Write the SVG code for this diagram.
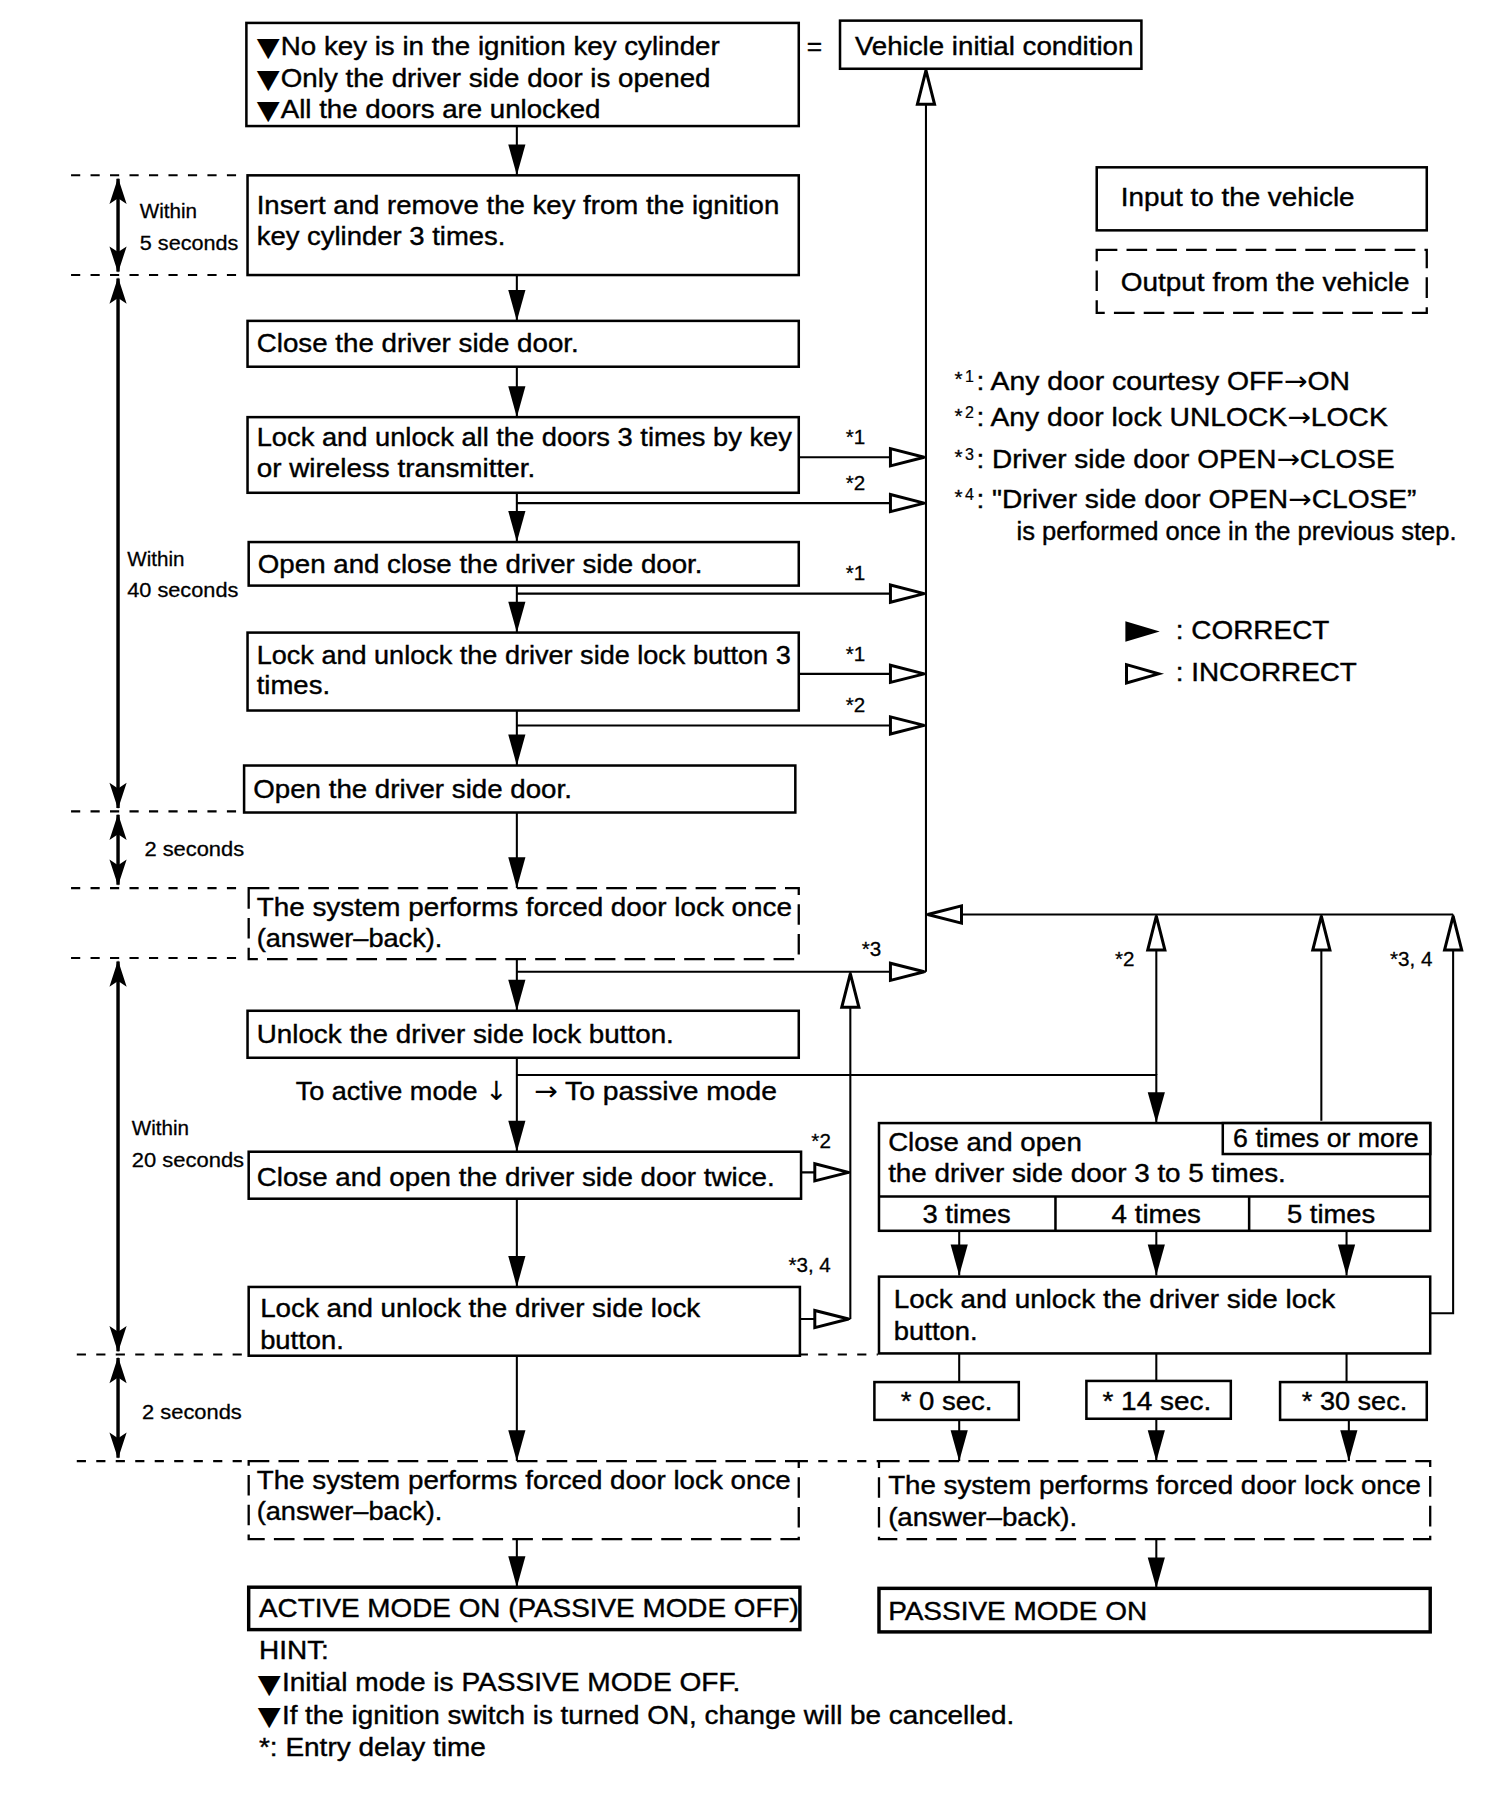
<svg xmlns="http://www.w3.org/2000/svg" width="1504" height="1798" viewBox="0 0 1504 1798">
<style>
.b{fill:#fff;stroke:#000;stroke-width:2.2}
.bt{fill:#fff;stroke:#000;stroke-width:3}
.d{fill:#fff;stroke:#000;stroke-width:2;stroke-dasharray:18 8}
.t{font-family:"Liberation Sans Narrow","Liberation Sans",Arial,sans-serif;font-size:23px;fill:#000;stroke:#000;stroke-width:0.35}
.s{font-size:18px;stroke-width:0.25}
.u{font-size:14px;stroke-width:0.2}
.g{font-family:"DejaVu Sans",sans-serif;stroke-width:0}
.tri{font-family:"DejaVu Sans",sans-serif;font-size:23px;stroke-width:0}
.c{fill:none;stroke:#000;stroke-width:1.8}
.f{marker-end:url(#fa)}
.o{marker-end:url(#oa)}
.tm{fill:none;stroke:#000;stroke-width:1.8;stroke-dasharray:8 9}
.dbl{fill:none;stroke:#000;stroke-width:3;marker-start:url(#da);marker-end:url(#da)}
</style>
<defs>
<marker id="fa" viewBox="-28 -9 30 18" refX="0" refY="0" markerWidth="30" markerHeight="18" markerUnits="userSpaceOnUse" orient="auto"><path d="M0,0 L-27,-7.5 L-27,7.5 z" fill="#000"/></marker>
<marker id="oa" viewBox="-35 -11 38 22" refX="0" refY="0" markerWidth="38" markerHeight="22" markerUnits="userSpaceOnUse" orient="auto"><path d="M-1.5,0 L-31,-7.5 L-31,7.5 z" fill="#fff" stroke="#000" stroke-width="2.6"/></marker>
<marker id="da" viewBox="-25 -9 27 18" refX="0" refY="0" markerWidth="27" markerHeight="18" markerUnits="userSpaceOnUse" orient="auto-start-reverse"><path d="M1,0 L-22,-7.5 L-17,0 L-22,7.5 z" fill="#000"/></marker>
</defs>
<g transform="scale(1.146)">
<g id="timing">
<path class="tm" d="M62,153H215M62,240H215M62,708H213M62,775H215M62,836H215M67,1182H217M697,1182H766M67,1275H217M697,1275H767"/>
<path class="dbl" d="M103,156V237"/>
<path class="dbl" d="M103,243V705"/>
<path class="dbl" d="M103,711V772"/>
<path class="dbl" d="M103,839V1179"/>
<path class="dbl" d="M103,1185V1272"/>
<text class="t s" x="122" y="190">Within</text>
<text class="t s" x="122" y="218" textLength="86" lengthAdjust="spacingAndGlyphs">5 seconds</text>
<text class="t s" x="111" y="494">Within</text>
<text class="t s" x="111" y="521" textLength="97" lengthAdjust="spacingAndGlyphs">40 seconds</text>
<text class="t s" x="126" y="747" textLength="87" lengthAdjust="spacingAndGlyphs">2 seconds</text>
<text class="t s" x="115" y="990">Within</text>
<text class="t s" x="115" y="1018" textLength="98" lengthAdjust="spacingAndGlyphs">20 seconds</text>
<text class="t s" x="124" y="1238" textLength="87" lengthAdjust="spacingAndGlyphs">2 seconds</text>
</g>
<g id="connectors">
<path class="c f" d="M451,110V153"/>
<path class="c f" d="M451,240V280"/>
<path class="c f" d="M451,320V364"/>
<path class="c f" d="M451,430V473"/>
<path class="c f" d="M451,511V552"/>
<path class="c f" d="M451,620V668"/>
<path class="c f" d="M451,709V775"/>
<path class="c f" d="M451,837V882"/>
<path class="c f" d="M451,923V1005"/>
<path class="c f" d="M451,1046V1123"/>
<path class="c f" d="M451,1183V1275"/>
<path class="c f" d="M451,1343V1385"/>
<path class="c f" d="M451,938H1009V980"/>
<path class="c f" d="M837,1074V1113"/>
<path class="c f" d="M1009,1074V1113"/>
<path class="c f" d="M1175,1074V1113"/>
<path class="c" d="M837,1181V1206M1009,1181V1205M1175,1181V1206"/>
<path class="c f" d="M837,1239V1275"/>
<path class="c f" d="M1009,1238V1275"/>
<path class="c f" d="M1177,1239V1275"/>
<path class="c f" d="M1009,1343V1386"/>
<path class="c o" d="M697,399H808"/>
<path class="c o" d="M451,439H808"/>
<path class="c o" d="M451,518H808"/>
<path class="c o" d="M697,588H808"/>
<path class="c o" d="M451,633H808"/>
<path class="c o" d="M451,848H808"/>
<path class="c o" d="M808,848V60"/>
<path class="c o" d="M1268,798H808"/>
<path class="c o" d="M1009,938V798"/>
<path class="c o" d="M1153,978V798"/>
<path class="c o" d="M1247,1146H1268V798"/>
<path class="c o" d="M699,1023H742"/>
<path class="c o" d="M698,1151H742"/>
<path class="c o" d="M742,1151V848"/>
<text class="t s" x="738" y="387">*1</text>
<text class="t s" x="738" y="428">*2</text>
<text class="t s" x="738" y="506">*1</text>
<text class="t s" x="738" y="577">*1</text>
<text class="t s" x="738" y="621">*2</text>
<text class="t s" x="752" y="834">*3</text>
<text class="t s" x="708" y="1002">*2</text>
<text class="t s" x="688" y="1110">*3, 4</text>
<text class="t s" x="973" y="843">*2</text>
<text class="t s" x="1213" y="843">*3, 4</text>
<text class="t" x="258" y="960" textLength="185" lengthAdjust="spacingAndGlyphs">To active mode <tspan class="g">↓</tspan></text>
<text class="t" x="466" y="960" textLength="212" lengthAdjust="spacingAndGlyphs"><tspan class="g">→</tspan> To passive mode</text>
</g>
<g id="n-initial">
<rect class="b" x="215" y="20" width="482" height="90"/>
<text class="t" x="224" y="48"><tspan class="tri" dy="1" textLength="20" lengthAdjust="spacingAndGlyphs">▼</tspan><tspan x="245" dy="-1" textLength="383" lengthAdjust="spacingAndGlyphs">No key is in the ignition key cylinder</tspan></text>
<text class="t" x="224" y="76"><tspan class="tri" dy="1" textLength="20" lengthAdjust="spacingAndGlyphs">▼</tspan><tspan x="245" dy="-1" textLength="375" lengthAdjust="spacingAndGlyphs">Only the driver side door is opened</tspan></text>
<text class="t" x="224" y="103"><tspan class="tri" dy="1" textLength="20" lengthAdjust="spacingAndGlyphs">▼</tspan><tspan x="245" dy="-1" textLength="279" lengthAdjust="spacingAndGlyphs">All the doors are unlocked</tspan></text>
</g>
<text class="t" x="704" y="48">=</text>
<g id="n-vehicle">
<rect class="b" x="733" y="18" width="263" height="42"/>
<text class="t" x="746" y="48" textLength="243" lengthAdjust="spacingAndGlyphs">Vehicle initial condition</text>
</g>
<g id="n-insert">
<rect class="b" x="216" y="153" width="481" height="87"/>
<text class="t" x="224" y="187" textLength="456" lengthAdjust="spacingAndGlyphs">Insert and remove the key from the ignition</text>
<text class="t" x="224" y="214" textLength="217" lengthAdjust="spacingAndGlyphs">key cylinder 3 times.</text>
</g>
<g id="n-close">
<rect class="b" x="216" y="280" width="481" height="40"/>
<text class="t" x="224" y="307" textLength="281" lengthAdjust="spacingAndGlyphs">Close the driver side door.</text>
</g>
<g id="n-lockall">
<rect class="b" x="216" y="364" width="481" height="66"/>
<text class="t" x="224" y="389" textLength="467" lengthAdjust="spacingAndGlyphs">Lock and unlock all the doors 3 times by key</text>
<text class="t" x="224" y="416" textLength="243" lengthAdjust="spacingAndGlyphs">or wireless transmitter.</text>
</g>
<g id="n-openclose">
<rect class="b" x="217" y="473" width="480" height="38"/>
<text class="t" x="225" y="500" textLength="388" lengthAdjust="spacingAndGlyphs">Open and close the driver side door.</text>
</g>
<g id="n-lockbtn3">
<rect class="b" x="216" y="552" width="481" height="68"/>
<text class="t" x="224" y="579" textLength="466" lengthAdjust="spacingAndGlyphs">Lock and unlock the driver side lock button 3</text>
<text class="t" x="224" y="606" textLength="64" lengthAdjust="spacingAndGlyphs">times.</text>
</g>
<g id="n-open">
<rect class="b" x="213" y="668" width="481" height="41"/>
<text class="t" x="221" y="696" textLength="278" lengthAdjust="spacingAndGlyphs">Open the driver side door.</text>
</g>
<g id="n-answer1">
<rect class="d" x="217" y="775" width="480" height="62"/>
<text class="t" x="224" y="799" textLength="467" lengthAdjust="spacingAndGlyphs">The system performs forced door lock once</text>
<text class="t" x="224" y="826" textLength="162" lengthAdjust="spacingAndGlyphs">(answer–back).</text>
</g>
<g id="n-unlock">
<rect class="b" x="216" y="882" width="481" height="41"/>
<text class="t" x="224" y="910" textLength="364" lengthAdjust="spacingAndGlyphs">Unlock the driver side lock button.</text>
</g>
<g id="n-twice">
<rect class="b" x="217" y="1005" width="482" height="41"/>
<text class="t" x="224" y="1035" textLength="452" lengthAdjust="spacingAndGlyphs">Close and open the driver side door twice.</text>
</g>
<g id="n-lockbtn">
<rect class="b" x="217" y="1123" width="481" height="60"/>
<text class="t" x="227" y="1149" textLength="384" lengthAdjust="spacingAndGlyphs">Lock and unlock the driver side lock</text>
<text class="t" x="227" y="1177" textLength="73" lengthAdjust="spacingAndGlyphs">button.</text>
</g>
<g id="n-answer2">
<rect class="d" x="217" y="1275" width="480" height="68"/>
<text class="t" x="224" y="1299" textLength="466" lengthAdjust="spacingAndGlyphs">The system performs forced door lock once</text>
<text class="t" x="224" y="1326" textLength="162" lengthAdjust="spacingAndGlyphs">(answer–back).</text>
</g>
<g id="n-active">
<rect class="bt" x="217" y="1385" width="481" height="37"/>
<text class="t" x="226" y="1411" textLength="471" lengthAdjust="spacingAndGlyphs">ACTIVE MODE ON (PASSIVE MODE OFF)</text>
</g>
<g id="hint">
<text class="t" x="226" y="1448" textLength="61" lengthAdjust="spacingAndGlyphs">HINT:</text>
<text class="t" x="225" y="1476"><tspan class="tri" dy="1" textLength="20" lengthAdjust="spacingAndGlyphs">▼</tspan><tspan x="246" dy="-1" textLength="400" lengthAdjust="spacingAndGlyphs">Initial mode is PASSIVE MODE OFF.</tspan></text>
<text class="t" x="225" y="1504"><tspan class="tri" dy="1" textLength="20" lengthAdjust="spacingAndGlyphs">▼</tspan><tspan x="246" dy="-1" textLength="639" lengthAdjust="spacingAndGlyphs">If the ignition switch is turned ON, change will be cancelled.</tspan></text>
<text class="t" x="226" y="1532" textLength="198" lengthAdjust="spacingAndGlyphs">*: Entry delay time</text>
</g>
<g id="legend">
<rect class="b" x="957" y="146" width="288" height="55"/>
<text class="t" x="978" y="180" textLength="204" lengthAdjust="spacingAndGlyphs">Input to the vehicle</text>
<rect class="d" x="957" y="218" width="288" height="55"/>
<text class="t" x="978" y="254" textLength="252" lengthAdjust="spacingAndGlyphs">Output from the vehicle</text>
<polygon points="982,542 1012,551 982,560" fill="#000"/>
<text class="t" x="1026" y="558" textLength="134" lengthAdjust="spacingAndGlyphs">: CORRECT</text>
<polygon points="983,580 1011,588 983,596" fill="#fff" stroke="#000" stroke-width="2.6"/>
<text class="t" x="1026" y="594" textLength="158" lengthAdjust="spacingAndGlyphs">: INCORRECT</text>
</g>
<g id="footnotes">
<text class="t s" x="833" y="337">*</text><text class="t u" x="842" y="333">1</text>
<text class="t" x="852" y="340" textLength="326" lengthAdjust="spacingAndGlyphs">: Any door courtesy OFF<tspan class="g">→</tspan>ON</text>
<text class="t s" x="833" y="369">*</text><text class="t u" x="842" y="365">2</text>
<text class="t" x="852" y="372" textLength="359" lengthAdjust="spacingAndGlyphs">: Any door lock UNLOCK<tspan class="g">→</tspan>LOCK</text>
<text class="t s" x="833" y="405">*</text><text class="t u" x="842" y="401">3</text>
<text class="t" x="852" y="408" textLength="365" lengthAdjust="spacingAndGlyphs">: Driver side door OPEN<tspan class="g">→</tspan>CLOSE</text>
<text class="t s" x="833" y="440">*</text><text class="t u" x="842" y="436">4</text>
<text class="t" x="852" y="443" textLength="384" lengthAdjust="spacingAndGlyphs">: "Driver side door OPEN<tspan class="g">→</tspan>CLOSE”</text>
<text class="t" x="887" y="471" textLength="384" lengthAdjust="spacingAndGlyphs">is performed once in the previous step.</text>
</g>
<g id="n-passive-count">
<rect class="b" x="767" y="980" width="481" height="94"/>
<path class="c" d="M767,1044H1248M921,1044V1074M1090,1044V1074" style="stroke-width:2.2"/>
<rect class="b" x="1067" y="980" width="181" height="27"/>
<text class="t" x="1076" y="1001" textLength="162" lengthAdjust="spacingAndGlyphs">6 times or more</text>
<text class="t" x="775" y="1004" textLength="169" lengthAdjust="spacingAndGlyphs">Close and open</text>
<text class="t" x="775" y="1031" textLength="347" lengthAdjust="spacingAndGlyphs">the driver side door 3 to 5 times.</text>
<text class="t" x="805" y="1067" textLength="77" lengthAdjust="spacingAndGlyphs">3 times</text>
<text class="t" x="970" y="1067" textLength="78" lengthAdjust="spacingAndGlyphs">4 times</text>
<text class="t" x="1123" y="1067" textLength="77" lengthAdjust="spacingAndGlyphs">5 times</text>
</g>
<g id="n-passive-lock">
<rect class="b" x="767" y="1114" width="481" height="67"/>
<text class="t" x="780" y="1141" textLength="385" lengthAdjust="spacingAndGlyphs">Lock and unlock the driver side lock</text>
<text class="t" x="780" y="1169" textLength="73" lengthAdjust="spacingAndGlyphs">button.</text>
</g>
<g id="n-delay0">
<rect class="b" x="763" y="1206" width="126" height="33"/>
<text class="t" x="786" y="1230" textLength="80" lengthAdjust="spacingAndGlyphs">* 0 sec.</text>
</g>
<g id="n-delay14">
<rect class="b" x="948" y="1205" width="126" height="33"/>
<text class="t" x="962" y="1230" textLength="95" lengthAdjust="spacingAndGlyphs">* 14 sec.</text>
</g>
<g id="n-delay30">
<rect class="b" x="1117" y="1206" width="128" height="33"/>
<text class="t" x="1136" y="1230" textLength="92" lengthAdjust="spacingAndGlyphs">* 30 sec.</text>
</g>
<g id="n-answer3">
<rect class="d" x="767" y="1275" width="481" height="68"/>
<text class="t" x="775" y="1304" textLength="465" lengthAdjust="spacingAndGlyphs">The system performs forced door lock once</text>
<text class="t" x="775" y="1332" textLength="165" lengthAdjust="spacingAndGlyphs">(answer–back).</text>
</g>
<g id="n-passive-on">
<rect class="bt" x="767" y="1386" width="481" height="38"/>
<text class="t" x="775" y="1414" textLength="226" lengthAdjust="spacingAndGlyphs">PASSIVE MODE ON</text>
</g>
</g>
</svg>
